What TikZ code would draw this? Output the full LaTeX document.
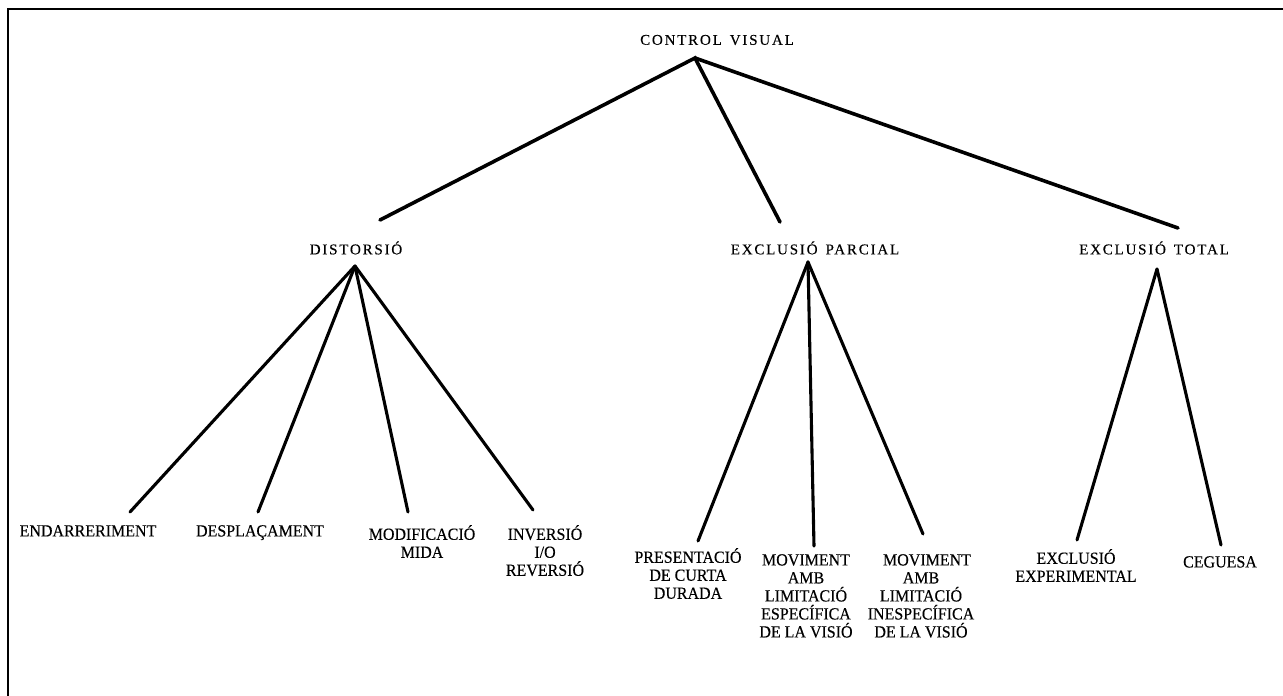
\documentclass[tikz,border=0pt]{standalone}
\usepackage{fontspec}
\setmainfont{Liberation Serif}
\newcommand{\wsp}{\hspace{8pt}}
\begin{document}
\begin{tikzpicture}[x=1pt,y=-1pt,
  frame/.style={line width=2.2pt,black},
  conn/.style={line width=3.6pt,line cap=round},
  subconn/.style={line width=3.1pt,line cap=round},
  toplabel/.style={inner sep=0pt,font=\fontsize{15}{17}\selectfont\addfontfeature{LetterSpace=12,FakeBold=0.3}},
  leaf/.style={inner sep=0pt,anchor=north,align=center,font=\fontsize{17}{18}\selectfont\addfontfeature{FakeStretch=0.94,FakeBold=0.3}}]
\useasboundingbox (0,0) rectangle (1283,696);
% frame (top and left only)
\draw[frame] (1283,9) -- (8,9) -- (8,696);
% root
\node[toplabel] (cv) at (717,40) {CONTROL\wsp VISUAL};
\coordinate (cva) at (695,58);
% second level
\node[toplabel] (dist) at (356,248) {DISTORSIÓ};
\node[toplabel] (excp) at (815,248) {EXCLUSIÓ\wsp PARCIAL};
\node[toplabel] (exct) at (1154,248) {EXCLUSIÓ\wsp TOTAL};
\coordinate (distT) at (380,220);
\coordinate (excpT) at (780,222);
\coordinate (exctT) at (1178,228);
\coordinate (distA) at (355,266);
\coordinate (excpA) at (808,262);
\coordinate (exctA) at (1157,269);
\draw[conn] (distT) -- (cva) -- (excpT);
\draw[conn] (cva) -- (exctT);
% leaves
\node[leaf] (endar) at (88,525) {ENDARRERIMENT};
\node[leaf] (despl) at (260,525) {DESPLAÇAMENT};
\node[leaf] (modif) at (422,525) {MODIFICACIÓ\\MIDA};
\node[leaf] (inver) at (545,525) {INVERSIÓ\\I/O\\REVERSIÓ};
\node[leaf] (presen) at (688,548) {PRESENTACIÓ\\DE CURTA\\DURADA};
\node[leaf] (movesp) at (806,554) {MOVIMENT\\AMB\hspace*{20pt}\\LIMITACIÓ\\ESPECÍFICA\\DE LA VISIÓ};
\node[leaf] (movines) at (921,554) {MOVIMENT\hspace*{-12pt}\\AMB\hspace*{6pt}\\LIMITACIÓ\hspace*{8pt}\\INESPECÍFICA\\DE LA VISIÓ};
\node[leaf] (exper) at (1076,549) {EXCLUSIÓ\\EXPERIMENTAL};
\node[leaf] (cegue) at (1220,556) {CEGUESA};
\coordinate (endarT) at (130,512);
\coordinate (desplT) at (258,512);
\coordinate (modifT) at (408,512);
\coordinate (inverT) at (533,510);
\coordinate (presenT) at (698,541);
\coordinate (movespT) at (814,546);
\coordinate (movinesT) at (923,534);
\coordinate (experT) at (1077,540);
\coordinate (cegueT) at (1221,545);
\draw[subconn] (distA) -- (endarT);
\draw[subconn] (distA) -- (desplT);
\draw[subconn] (distA) -- (modifT);
\draw[subconn] (distA) -- (inverT);
\draw[subconn] (excpA) -- (presenT);
\draw[subconn] (excpA) -- (movespT);
\draw[subconn] (excpA) -- (movinesT);
\draw[subconn] (exctA) -- (experT);
\draw[subconn] (exctA) -- (cegueT);
\end{tikzpicture}
\end{document}
